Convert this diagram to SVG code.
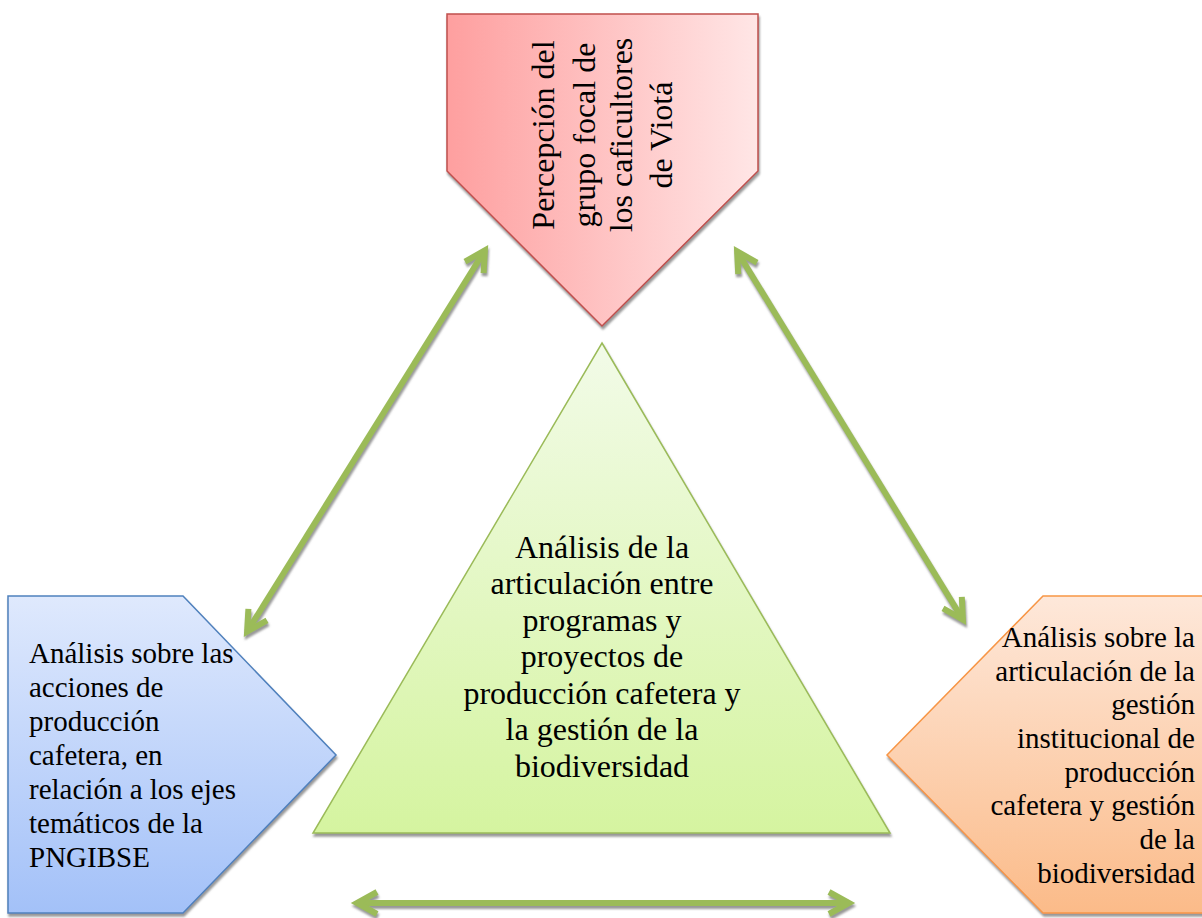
<svg xmlns="http://www.w3.org/2000/svg" width="1202" height="918" viewBox="0 0 1202 918">
<style>
.t{font-family:"Liberation Serif","Times New Roman",serif;fill:#000}
.s29{font-size:29px}
.s32{font-size:32px}
.arr{fill:none;stroke:#9bbb59;stroke-width:6;stroke-linecap:butt;stroke-linejoin:miter;stroke-miterlimit:10}
</style>
<defs>
<filter id="sh" x="-10%" y="-10%" width="130%" height="130%">
<feDropShadow dx="1" dy="3" stdDeviation="0.8" flood-color="#7f7f7f" flood-opacity="0.8"/>
</filter>
<linearGradient id="gRed" x1="0" y1="0" x2="1" y2="0">
<stop offset="0" stop-color="#fe9f9f"/>
<stop offset="1" stop-color="#ffe6e6"/>
</linearGradient>
<linearGradient id="gBlue" x1="0" y1="0" x2="0" y2="1">
<stop offset="0" stop-color="#dfe9fd"/>
<stop offset="1" stop-color="#a3c1f8"/>
</linearGradient>
<linearGradient id="gOrange" x1="0" y1="0" x2="0" y2="1">
<stop offset="0" stop-color="#fee8da"/>
<stop offset="1" stop-color="#fbbb89"/>
</linearGradient>
<linearGradient id="gGreen" x1="0" y1="0" x2="0" y2="1">
<stop offset="0" stop-color="#f2fbe8"/>
<stop offset="1" stop-color="#d5f4a0"/>
</linearGradient>
</defs>

<g id="connectors" filter="url(#sh)">
<polyline class="arr" points="484.9,250.4 247.1,631.6"/>
<polyline class="arr" points="483.6,273.2 484.9,250.4 465.0,261.6"/>
<polyline class="arr" points="267.0,620.4 247.1,631.6 248.4,608.8"/>
<polyline class="arr" points="737.1,251.4 962.9,619.6"/>
<polyline class="arr" points="738.2,274.2 737.1,251.4 757.0,262.6"/>
<polyline class="arr" points="943.0,608.4 962.9,619.6 961.8,596.8"/>
<polyline class="arr" points="357,903 849,903"/>
<polyline class="arr" points="377,892 357,903 377,914"/>
<polyline class="arr" points="829,892 849,903 829,914"/>
</g>

<g id="node-percepcion">
<polygon points="447,14 758,14 758,171 602,326 447,171" fill="url(#gRed)" stroke="#c0504d" stroke-width="1.5" filter="url(#sh)"/>
<g class="t s32" text-anchor="middle">
<text transform="translate(554,135) rotate(-90)">Percepción del</text>
<text transform="translate(595,135) rotate(-90)">grupo focal de</text>
<text transform="translate(632,135) rotate(-90)">los caficultores</text>
<text transform="translate(672,135) rotate(-90)">de Viotá</text>
</g>
</g>

<g id="node-acciones">
<polygon points="8,596 183,596 336,755 183,913 8,913" fill="url(#gBlue)" stroke="#4f81bd" stroke-width="1.5" filter="url(#sh)"/>
<g class="t s29">
<text x="29" y="663">Análisis sobre las</text>
<text x="29" y="697">acciones de</text>
<text x="29" y="731">producción</text>
<text x="29" y="765">cafetera, en</text>
<text x="29" y="799">relación a los ejes</text>
<text x="29" y="833">temáticos de la</text>
<text x="29" y="867">PNGIBSE</text>
</g>
</g>

<g id="node-gestion">
<polygon points="1210,596 1043,596 887,755 1043,913 1210,913" fill="url(#gOrange)" stroke="#f79646" stroke-width="1.5" filter="url(#sh)"/>
<g class="t s29" text-anchor="end">
<text x="1195" y="647">Análisis sobre la</text>
<text x="1195" y="681">articulación de la</text>
<text x="1195" y="714">gestión</text>
<text x="1195" y="748">institucional de</text>
<text x="1195" y="782">producción</text>
<text x="1195" y="815">cafetera y gestión</text>
<text x="1195" y="849">de la</text>
<text x="1195" y="883">biodiversidad</text>
</g>
</g>

<g id="node-articulacion">
<polygon points="602,343 890,833 313,833" fill="url(#gGreen)" stroke="#9bbb59" stroke-width="1.5" filter="url(#sh)"/>
<g class="t s32" text-anchor="middle">
<text x="602" y="558">Análisis de la</text>
<text x="602" y="594">articulación entre</text>
<text x="602" y="631">programas y</text>
<text x="602" y="667">proyectos de</text>
<text x="602" y="704">producción cafetera y</text>
<text x="602" y="740">la gestión de la</text>
<text x="602" y="777">biodiversidad</text>
</g>
</g>
</svg>
